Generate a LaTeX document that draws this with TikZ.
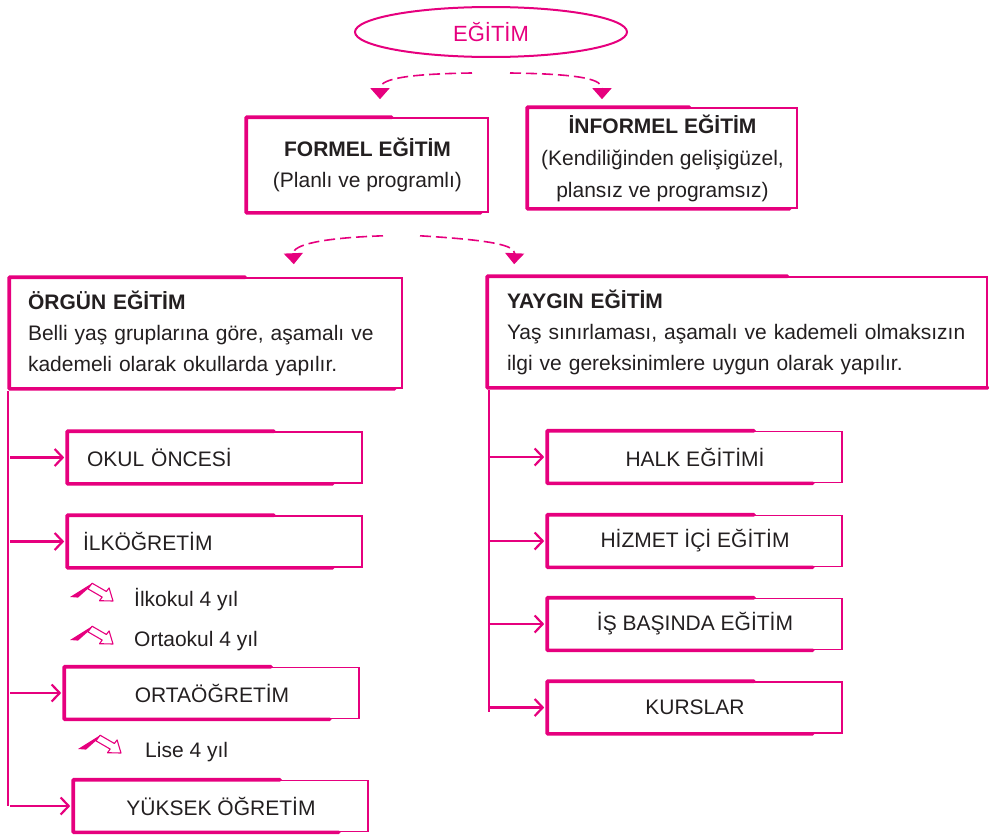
\documentclass[tikz,border=0pt]{standalone}
\usepackage{fontspec}
\setmainfont{Liberation Sans}
\usetikzlibrary{arrows.meta,shapes.geometric,positioning,calc}
\definecolor{pembe}{RGB}{230,0,126}
\definecolor{yazi}{RGB}{35,31,32}

\tikzset{
  yazistil/.style={text=yazi, font=\fontsize{21}{31}\selectfont},
  elips/.style={ellipse, draw=pembe, line width=2pt, text=pembe,
    font=\fontsize{22}{26}\selectfont, minimum width=272pt, minimum height=50pt},
  kutu/.style={yazistil, draw=pembe, line width=1.6pt, inner sep=0pt},
  kucukkutu/.style={kutu, minimum width=294pt, minimum height=51pt},
  solyazi/.style={text width=256pt, inner xsep=19pt, align=left},
  kalin/.style={draw=pembe, line width=3.6pt, line cap=round, line join=round},
  kesikok/.style={draw=pembe, line width=1.6pt, dash pattern=on 11pt off 5pt,
    -{Triangle[length=11pt,width=19pt]}},
  dal/.style={draw=pembe, line width=2.4pt},
  dalok/.style={dal, -{Straight Barb[length=8pt,width=17pt,line width=2.2pt]}, shorten >=3pt},
  kivrikok/.pic={
    \fill[pembe] (0,0) -- (22.1,-13.8) -- (17.9,-8.2) -- (8,0.6) -- cycle;
    \draw[pembe, fill=white, line width=1.1pt, line join=round]
      (17.9,-8.2) -- (32.2,0.1) -- (29.5,3.7) -- (43,4) -- (39.1,-9.1)
      -- (36.4,-5.5) -- (22.1,-13.8) -- cycle;
  }
}

\begin{document}
\begin{tikzpicture}[x=1pt, y=-1pt]
\useasboundingbox (0,0) rectangle (989,835);

%% ust duzey
\node[elips] (egitim) at (491,32) {EĞİTİM};
\node[kutu, minimum width=241pt, minimum height=94pt, align=center] (formel) at (367.5,165)
  {{\bfseries FORMEL EĞİTİM}\\(Planlı ve programlı)};
\node[kutu, minimum width=269pt, minimum height=100pt, align=center,
  font=\fontsize{21}{32}\selectfont] (informel) at (662.5,158)
  {{\bfseries İNFORMEL EĞİTİM}\\(Kendiliğinden gelişigüzel,\\plansız ve programsız)};

\draw[kesikok] ($(egitim.south)+(-19,15)$) .. controls (400,74) and (380,80) .. ($(formel.north)+(12.5,-18)$);
\draw[kesikok] ($(egitim.south)+(19,15)$) .. controls (585,74) and (602,80) .. ($(informel.north)+(-60.5,-8)$);

%% orgun ve yaygin
\node[kutu, minimum width=392pt, minimum height=110pt, text width=356pt, inner xsep=18pt, align=left] (orgun) at (206,333)
  {{\bfseries ÖRGÜN EĞİTİM}\\Belli yaş gruplarına göre, aşamalı ve\\kademeli olarak okullarda yapılır.};
\node[kutu, minimum width=499pt, minimum height=110pt, text width=461pt, inner xsep=19pt, align=left] (yaygin) at (737.5,332)
  {{\bfseries YAYGIN EĞİTİM}\\Yaş sınırlaması, aşamalı ve kademeli olmaksızın\\ilgi ve gereksinimlere uygun olarak yapılır.};

\draw[kesikok] ($(formel.south)+(15.5,23)$) .. controls (320,238) and (293,245) .. ($(orgun.north east)+(-109,-13)$);
\draw[kesikok] ($(formel.south)+(52.5,23)$) .. controls (490,240) and (515,245) .. ($(yaygin.north west)+(27,-12)$);

%% orgun egitim kademeleri
\node[kucukkutu, solyazi] (okul) at (215,457.5) {OKUL ÖNCESİ};
\node[kucukkutu, solyazi, inner xsep=15pt, text width=264pt] (ilkogretim) at (215,541.5) {İLKÖĞRETİM};
\node[yazistil, anchor=west, inner xsep=0pt] (ilkokul) at (134,600) {İlkokul 4 yıl};
\node[yazistil, anchor=west, inner xsep=0pt] (ortaokul) at (134,641) {Ortaokul 4 yıl};
\node[kucukkutu] (ortaogretim) at (212,693) {ORTAÖĞRETİM};
\node[yazistil, anchor=west, inner xsep=0pt] (lise) at (145,752) {Lise 4 yıl};
\node[kucukkutu] (yuksek) at (221,806) {YÜKSEK ÖĞRETİM};

\pic at (70,597) {kivrikok};
\pic at (70,640) {kivrikok};
\pic at (78,749) {kivrikok};

\draw[dal] ($(orgun.south west)+(-1,2)$) -- ($(orgun.south west |- yuksek.west)+(-1,0)$);
\draw[dalok] ($(orgun.south west |- okul.west)+(1,0)$) -- (okul.west);
\draw[dalok] ($(orgun.south west |- ilkogretim.west)+(1,0)$) -- (ilkogretim.west);
\draw[dalok] ($(orgun.south west |- ortaogretim.west)+(1,0)$) -- (ortaogretim.west);
\draw[dalok] ($(orgun.south west |- yuksek.west)+(1,0)$) -- (yuksek.west);

%% yaygin egitim turleri
\node[kucukkutu] (halk) at (695,457) {HALK EĞİTİMİ};
\node[kucukkutu] (hizmet) at (695,541) {HİZMET İÇİ EĞİTİM};
\node[kucukkutu] (isbasi) at (695,624) {İŞ BAŞINDA EĞİTİM};
\node[kucukkutu] (kurslar) at (695,707.5) {KURSLAR};

\draw[dal] ($(yaygin.south west)+(2,2)$) -- ($(yaygin.south west |- kurslar.west)+(2,4)$);
\draw[dalok] ($(yaygin.south west |- halk.west)+(3,0)$) -- (halk.west);
\draw[dalok] ($(yaygin.south west |- hizmet.west)+(3,0)$) -- (hizmet.west);
\draw[dalok] ($(yaygin.south west |- isbasi.west)+(3,0)$) -- (isbasi.west);
\draw[dalok] ($(yaygin.south west |- kurslar.west)+(3,0)$) -- (kurslar.west);

%% kalin firca kenarlari
\draw[kalin] ($(formel.north west)!0.6!(formel.north east)$) -- (formel.north west) -- (formel.south west) -- ($(formel.south east)+(-8,0)$);
\draw[kalin] ($(informel.north west)!0.6!(informel.north east)$) -- (informel.north west) -- (informel.south west) -- ($(informel.south east)+(-8,0)$);
\draw[kalin] ($(orgun.north west)!0.6!(orgun.north east)$) -- (orgun.north west) -- (orgun.south west) -- ($(orgun.south east)+(-8,0)$);
\draw[kalin] ($(yaygin.north west)!0.6!(yaygin.north east)$) -- (yaygin.north west) -- (yaygin.south west) -- (yaygin.south east);
\foreach \k in {okul,ilkogretim,ortaogretim,yuksek,halk,hizmet,isbasi,kurslar}
  \draw[kalin] ($(\k.north west)!0.7!(\k.north east)$) -- (\k.north west) -- (\k.south west) -- ($(\k.south east)+(-30,0)$);

\end{tikzpicture}
\end{document}
